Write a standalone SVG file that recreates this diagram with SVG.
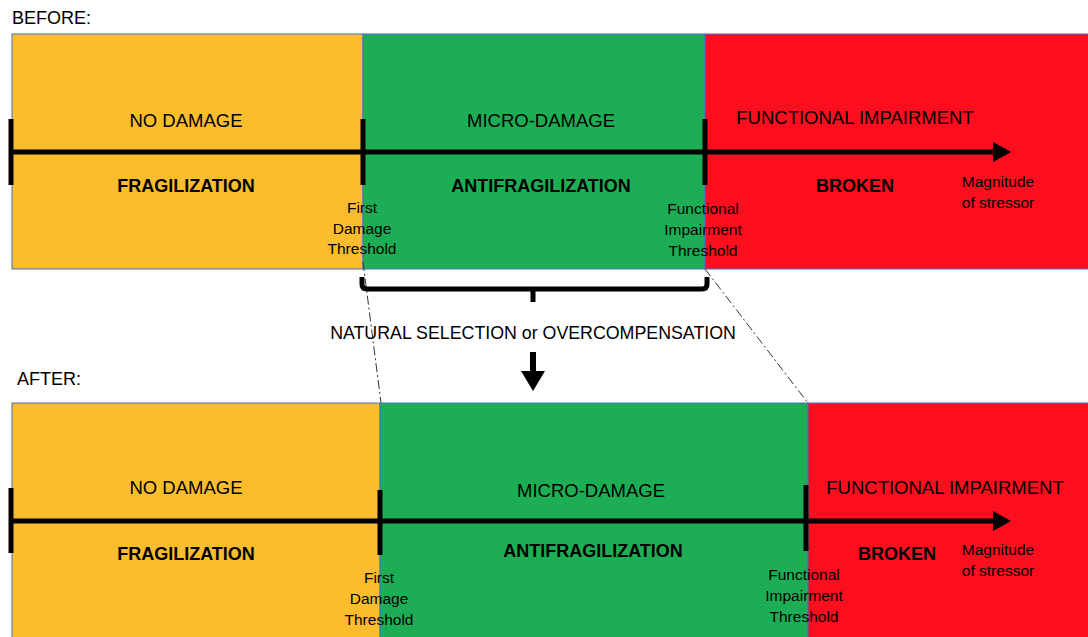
<svg xmlns="http://www.w3.org/2000/svg" width="1088" height="637" viewBox="0 0 1088 637">
  <style>
    .zone { stroke: #4472C4; stroke-width: 1; }
    .yellow { fill: #FBBC2D; }
    .green { fill: #1DAE55; }
    .red { fill: #FC0E1F; }
    .axis { stroke: #000; stroke-width: 5; fill: none; }
    .tick { stroke: #000; stroke-width: 5; }
    .guide { stroke: #333; stroke-width: 1; fill: none; stroke-dasharray: 9 3 2 3; }
    text { font-family: "Liberation Sans", Arial, sans-serif; fill: #000; }
    .hdr { font-size: 18px; }
    .zl { font-size: 18.5px; text-anchor: middle; }
    .bold { font-size: 18px; font-weight: bold; text-anchor: middle; }
    .small { font-size: 15.5px; text-anchor: middle; }
  </style>
  <defs>
    <marker id="head" viewBox="0 0 10 10" refX="0" refY="5" markerWidth="4" markerHeight="4" markerUnits="strokeWidth" orient="auto">
      <path d="M0,0 L10,5 L0,10 z" fill="#000"/>
    </marker>
  </defs>
  <rect width="1088" height="637" fill="#fff"/>

  <!-- BEFORE panel -->
  <g id="before">
    <text class="hdr" x="12" y="24">BEFORE:</text>
    <g id="before-no-damage">
      <rect class="zone yellow" x="12" y="34" width="351" height="235"/>
      <text class="zl" x="186" y="127">NO DAMAGE</text>
      <text class="bold" x="186" y="192">FRAGILIZATION</text>
    </g>
    <g id="before-micro-damage">
      <rect class="zone green" x="363" y="34" width="342" height="235"/>
      <text class="zl" x="541" y="127">MICRO-DAMAGE</text>
      <text class="bold" x="541" y="192">ANTIFRAGILIZATION</text>
    </g>
    <g id="before-impairment">
      <rect class="zone red" x="705" y="34" width="384" height="235"/>
      <text class="zl" x="855" y="124">FUNCTIONAL IMPAIRMENT</text>
      <text class="bold" x="855" y="192">BROKEN</text>
    </g>
    <g id="before-axis">
      <line class="axis" x1="12" y1="152" x2="994" y2="152"/>
      <path d="M993,142 L1011,152 L993,162 z" fill="#000"/>
      <line class="tick" x1="11" y1="119" x2="11" y2="185"/>
      <line class="tick" x1="363" y1="119" x2="363" y2="185"/>
      <line class="tick" x1="705" y1="119" x2="705" y2="185"/>
    </g>
    <g id="before-labels">
      <text class="small" x="362" y="213">First</text>
      <text class="small" x="362" y="234">Damage</text>
      <text class="small" x="362" y="254">Threshold</text>
      <text class="small" x="703" y="214">Functional</text>
      <text class="small" x="703" y="235">Impairment</text>
      <text class="small" x="703" y="256">Threshold</text>
      <text class="small" x="998" y="187">Magnitude</text>
      <text class="small" x="998" y="208">of stressor</text>
    </g>
  </g>

  <!-- Transition between panels -->
  <g id="connectors">
    <line class="guide" x1="363" y1="262" x2="381" y2="403"/>
    <line class="guide" x1="705" y1="269" x2="808" y2="403"/>
    <path d="M362,277 V284 Q362,289 367,289 H702 Q707,289 707,284 V277 M533,289 V302" stroke="#000" stroke-width="5" fill="none"/>
    <line x1="533" y1="352" x2="533" y2="373" stroke="#000" stroke-width="6"/>
    <path d="M521,371 L545,371 L533,391 z" fill="#000"/>
  </g>
  <g id="process">
    <text class="zl" x="533" y="339" style="font-size:17.8px">NATURAL SELECTION or OVERCOMPENSATION</text>
  </g>

  <!-- AFTER panel -->
  <g id="after">
    <text class="hdr" x="17" y="385">AFTER:</text>
    <g id="after-no-damage">
      <rect class="zone yellow" x="12" y="403" width="368" height="240"/>
      <text class="zl" x="186" y="494">NO DAMAGE</text>
      <text class="bold" x="186" y="560">FRAGILIZATION</text>
    </g>
    <g id="after-micro-damage">
      <rect class="zone green" x="380" y="403" width="428" height="240"/>
      <text class="zl" x="591" y="497">MICRO-DAMAGE</text>
      <text class="bold" x="593" y="557">ANTIFRAGILIZATION</text>
    </g>
    <g id="after-impairment">
      <rect class="zone red" x="808" y="403" width="281" height="240"/>
      <text class="zl" x="945" y="494">FUNCTIONAL IMPAIRMENT</text>
      <text class="bold" x="897" y="560">BROKEN</text>
    </g>
    <g id="after-axis">
      <line class="axis" x1="12" y1="521" x2="994" y2="521"/>
      <path d="M993,511 L1011,521 L993,531 z" fill="#000"/>
      <line class="tick" x1="11" y1="488" x2="11" y2="553"/>
      <line class="tick" x1="380" y1="490" x2="380" y2="555"/>
      <line class="tick" x1="806" y1="485" x2="806" y2="551"/>
    </g>
    <g id="after-labels">
      <text class="small" x="379" y="583">First</text>
      <text class="small" x="379" y="604">Damage</text>
      <text class="small" x="379" y="625">Threshold</text>
      <text class="small" x="804" y="580">Functional</text>
      <text class="small" x="804" y="601">Impairment</text>
      <text class="small" x="804" y="622">Threshold</text>
      <text class="small" x="998" y="555">Magnitude</text>
      <text class="small" x="998" y="576">of stressor</text>
    </g>
  </g>
</svg>
